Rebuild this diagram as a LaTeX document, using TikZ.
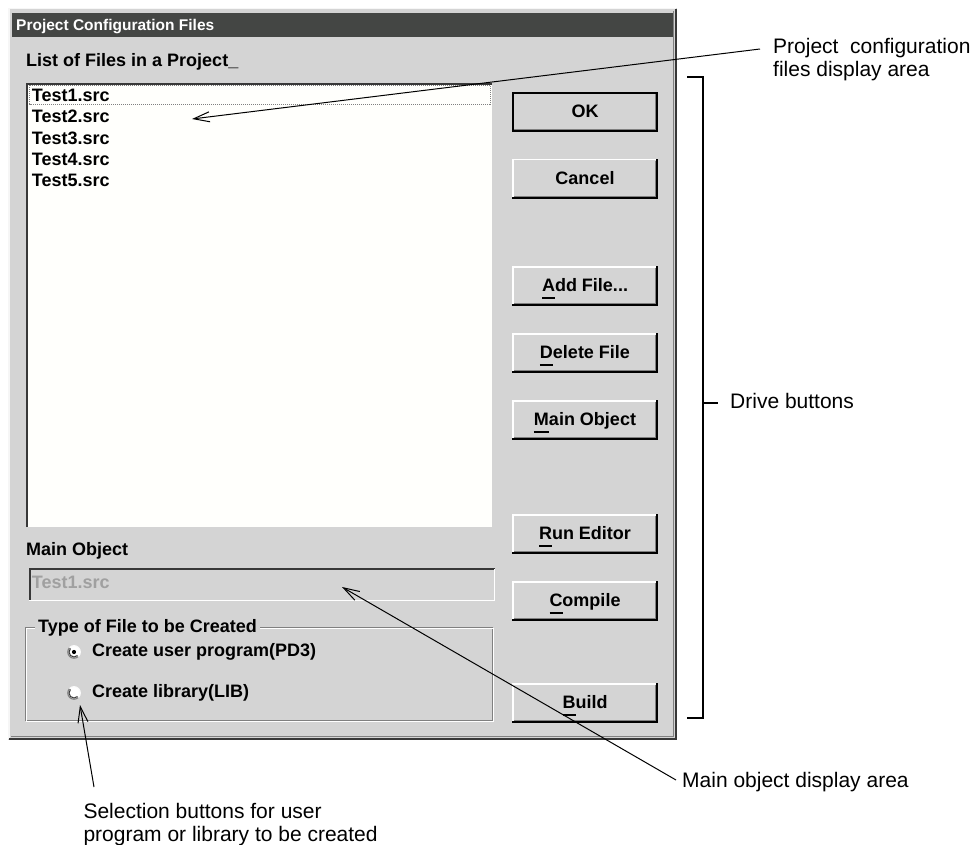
\documentclass[tikz,border=0pt]{standalone}
\usepackage{fontspec}
\setmainfont{Liberation Sans}
\usetikzlibrary{arrows.meta}

\definecolor{dlgface}{RGB}{212,212,212}
\definecolor{dlgtitle}{RGB}{68,70,68}
\definecolor{dlgshadow}{RGB}{128,128,128}
\definecolor{dlgdark}{RGB}{56,56,56}
\definecolor{listbg}{RGB}{255,255,252}
\definecolor{graytext}{RGB}{160,160,160}

\newcommand{\uifont}{\fontsize{18}{21}\selectfont\bfseries}
\newcommand{\titlefont}{\fontsize{15.5}{18}\selectfont\bfseries}
\newcommand{\notefont}{\fontsize{21}{24}\selectfont}
% underlined access key of a button caption
\newcommand{\mnem}[1]{\setbox0\hbox{#1}\rlap{\rule[-7.5pt]{\wd0}{1.6pt}}\box0}

% push button: #1 node name, #2 top edge, #3 caption
\newcommand{\dlgbutton}[3]{%
  \fill[dlgface] (512,#2) rectangle (658,{#2+40});
  \draw[white, line width=1.5pt] (512.75,{#2+39}) -- (512.75,{#2+0.75}) -- (657,{#2+0.75});
  \draw[black, line width=1.6pt] (512,{#2+39.2}) -- (657.2,{#2+39.2}) -- (657.2,#2);
  \draw[dlgshadow, line width=1.2pt] (514,{#2+37.6}) -- (655.6,{#2+37.6}) -- (655.6,{#2+2});
  \node[btntext] (#1) at (585,{#2+25.5}) {#3};
}

% radio button: #1 name, #2 centre y, #3 selected (1) or not (0)
\newcommand{\dlgradio}[3]{%
  \fill[white] (74,#2) circle (6.5);
  \draw[dlgshadow, line width=1.2pt] (74,#2) ++(45:6.2) arc (45:225:6.2);
  \draw[dlgdark, line width=1pt] (74,#2) ++(45:5) arc (45:225:5);
  \draw[white!85!dlgface, line width=1pt] (74,#2) ++(225:6.4) arc (225:405:6.4);
  \ifnum#3=1 \fill[black] (74,#2) circle (2.1);\fi
  \coordinate (#1) at (74,#2);
}

\begin{document}
\begin{tikzpicture}[x=1pt,y=-1pt,
  uitext/.style={font=\uifont, inner sep=0pt, anchor=base west},
  btntext/.style={font=\uifont, inner sep=0pt, anchor=base},
  notetext/.style={font=\notefont, inner sep=0pt, anchor=base west},
  pointer/.style={black, line width=1pt, -{Straight Barb[length=16pt,width=10pt,line width=1pt]}},
  bracket/.style={black, line width=2pt}]

\useasboundingbox (0,0) rectangle (980,845);
\fill[white] (0,0) rectangle (980,845);

% ---- dialog window frame and caption
\fill[dlgface] (8,8) rectangle (677,740);
\draw[white!80!dlgface, line width=1.5pt] (8.75,739) -- (8.75,8.75) -- (676,8.75);
\draw[dlgdark, line width=2pt] (9,739) -- (676,739) -- (676,9);
\draw[dlgshadow, line width=1pt] (11,736.5) -- (673.5,736.5) -- (673.5,11);
\fill[dlgtitle] (12,13) rectangle (673,37);
\node[font=\titlefont, text=white, inner sep=0pt, anchor=base west] (title) at (16,30.5) {Project Configuration Files};

% ---- file list
\node[uitext] (listlabel) at (26,66.7) {List of Files in a Project\_};
\fill[listbg] (26,83) rectangle (492,527);
\draw[dlgdark, line width=2pt] (27,527) -- (27,84) -- (492,84);
\draw[dlgshadow, line width=0.8pt, dash pattern=on 1pt off 1pt] (29.5,85.5) rectangle (490,104);
\node[uitext] (f1) at (31.7,101.7) {Test1.src};
\node[uitext] (f2) at (31.7,122.9) {Test2.src};
\node[uitext] (f3) at (31.7,144.2) {Test3.src};
\node[uitext] (f4) at (31.7,165.5) {Test4.src};
\node[uitext] (f5) at (31.7,186.8) {Test5.src};

% ---- main object field
\node[uitext] (mainlabel) at (26,555) {Main Object};
\draw[dlgdark, line width=2pt] (29.5,601) -- (29.5,569.2) -- (495,569.2);
\draw[white, line width=1.5pt] (28.5,600.3) -- (494.3,600.3) -- (494.3,568.5);
\node[uitext, text=graytext] (mainfield) at (31.7,588) {Test1.src};

% ---- group of radio buttons
\draw[dlgshadow, line width=1pt] (25.5,627.5) rectangle (492.5,720.5);
\draw[white, line width=1pt] (26.5,628.5) rectangle (493.5,721.5);
\node[uitext, fill=dlgface, inner xsep=3pt] (grouplabel) at (35,632) {Type of File to be Created};
\dlgradio{rpd}{652}{1}
\dlgradio{rlib}{693}{0}
\node[uitext] (pdlabel) at (92,656.7) {Create user program(PD3)};
\node[uitext] (liblabel) at (92,697.7) {Create library(LIB)};

% ---- command buttons
\dlgbutton{ok}{92}{OK}
\draw[black, line width=2pt] (513,93) rectangle (657,131);
\dlgbutton{cancel}{159}{Cancel}
\dlgbutton{addfile}{266}{\mnem{A}dd File...}
\dlgbutton{delfile}{333}{\mnem{D}elete File}
\dlgbutton{mainobj}{400}{\mnem{M}ain Object}
\dlgbutton{runed}{514}{\mnem{R}un Editor}
\dlgbutton{compile}{581}{\mnem{C}ompile}
\dlgbutton{build}{683}{\mnem{B}uild}

% ---- annotations
\node[notetext] (cfgA) at (773,53.3) {Project\ \ configuration};
\node[notetext] (cfgB) at (773,76.8) {files display area};
\coordinate (cfgtail) at (760,49);
\coordinate (listtip) at (192,119);
\draw[pointer] (cfgtail) -- (listtip);

\coordinate (brtop) at (687,77);
\coordinate (brbot) at (687,718);
\draw[bracket] (brtop) -- (703,77) -- (703,718) -- (brbot);
\coordinate (brmid) at (703,403);
\node[notetext] (drive) at (730,408.3) {Drive buttons};
\draw[bracket] (brmid) -- (718,403);

\node[notetext] (mainnote) at (682,787) {Main object display area};
\coordinate (maintail) at (676,780);
\coordinate (maintip) at (342,587);
\draw[pointer] (maintail) -- (maintip);

\node[notetext] (selA) at (83.3,818) {Selection buttons for user};
\node[notetext] (selB) at (83.3,841.5) {program or library to be created};
\coordinate (seltail) at (94,787);
\coordinate (seltip) at (80,705);
\draw[pointer] (seltail) -- (seltip);

\end{tikzpicture}
\end{document}
